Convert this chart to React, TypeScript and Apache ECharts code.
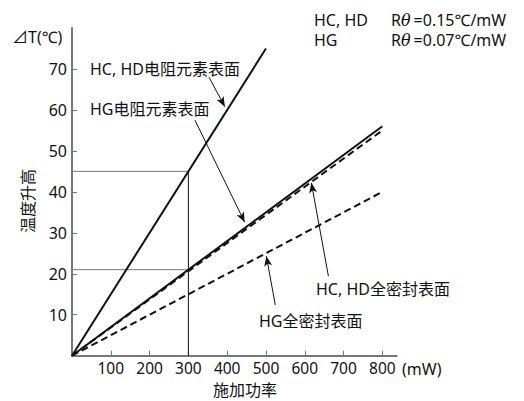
import React, { useEffect, useRef } from "react";
import * as echarts from "echarts";

// Data (x: applied power mW, y: temperature rise ℃)
const xTickValues = [100, 200, 300, 400, 500, 600, 700, 800];
const yTickValues = [10, 20, 30, 40, 50, 60, 70];
const hcHdElementLine = [[0, 0], [500, 75]];
const hgElementLine = [[0, 0], [800, 56]];
const hcHdSealedLine = [[0, 0], [800, 55]];
const hgSealedLine = [[0, 0], [800, 40]];
const guideH45 = [[0, 45], [300, 45]];
const guideH21 = [[0, 21], [300, 21]];
const guideV300 = [[300, 0], [300, 45]];
const arrowHcHdElement = [[353, 68], [394, 60.8]];
const arrowHgElement = [[317, 57.5], [445, 32.6]];
const arrowHcHdSealed = [[661, 19.4], [617, 42.2]];
const arrowHgSealed = [[524, 12.4], [501, 24.3]];
const labelHcHdElement = "HC, HD电阻元素表面";
const labelHgElement = "HG电阻元素表面";
const labelHcHdSealed = "HC, HD全密封表面";
const labelHgSealed = "HG全密封表面";

const FONT = '"Noto Sans", "Noto Sans CJK SC", sans-serif';

export default function App() {
  const ref = useRef<HTMLDivElement>(null);
  useEffect(() => {
    if (!ref.current) return;
    const chart = echarts.init(ref.current, null, { renderer: "svg" });
    const txt = (text: string, x: number, y: number, extra: any = {}) => ({
      type: "text",
      x,
      y,
      style: {
        text,
        fill: "#111",
        font: `16px ${FONT}`,
        verticalAlign: "middle",
        align: "left",
        ...extra,
      },
    });
    const arrow = (pts: number[][]) => [{ coord: pts[0] }, { coord: pts[1] }];
    const rich = { i: { fontStyle: "italic", fontSize: 16, fontFamily: "DejaVu Serif", padding: [0, 3, 0, 0] } };
    chart.setOption({
      animation: false,
      backgroundColor: "#fff",
      grid: { left: 72, top: 28, right: 127.3, bottom: 45.3, containLabel: false },
      xAxis: {
        type: "value",
        min: 0,
        max: 837,
        interval: 100,
        splitLine: { show: false },
        axisLine: { lineStyle: { color: "#777", width: 2 } },
        axisTick: { inside: true, length: 5, lineStyle: { color: "#777", width: 1 }, customValues: xTickValues },
        axisLabel: { color: "#111", fontSize: 15.5, fontFamily: FONT, margin: 5, customValues: xTickValues },
      },
      yAxis: {
        type: "value",
        min: 0,
        max: 80,
        interval: 10,
        splitLine: { show: false },
        axisLine: { show: true, lineStyle: { color: "#777", width: 2 } },
        axisTick: { show: true, inside: true, length: 5, lineStyle: { color: "#777", width: 1 }, customValues: yTickValues },
        axisLabel: { color: "#111", fontSize: 16, fontFamily: FONT, margin: 5, customValues: yTickValues },
      },
      series: [
        { type: "line", data: guideH45, symbol: "none", lineStyle: { color: "#777", width: 1 }, z: 1 },
        { type: "line", data: guideH21, symbol: "none", lineStyle: { color: "#777", width: 1 }, z: 1 },
        { type: "line", data: guideV300, symbol: "none", lineStyle: { color: "#111", width: 1 }, z: 1 },
        { type: "line", data: hgSealedLine, symbol: "none", lineStyle: { color: "#111", width: 2, type: [7, 4] }, z: 2 },
        { type: "line", data: hcHdSealedLine, symbol: "none", lineStyle: { color: "#111", width: 2, type: [7, 4] }, z: 2 },
        { type: "line", data: hgElementLine, symbol: "none", lineStyle: { color: "#111", width: 2 }, z: 3 },
        { type: "line", data: hcHdElementLine, symbol: "none", lineStyle: { color: "#111", width: 2 }, z: 3 },
        {
          type: "line",
          data: [],
          markLine: {
            silent: true,
            symbol: ["none", "arrow"],
            symbolSize: [6, 10],
            label: { show: false },
            lineStyle: { color: "#111", width: 1, type: "solid" },
            data: [arrow(arrowHcHdElement), arrow(arrowHgElement), arrow(arrowHcHdSealed), arrow(arrowHgSealed)],
          },
        },
      ],
      graphic: [
        txt("⊿T(℃)", 12, 37),
        {
          type: "text",
          x: 28,
          y: 201,
          rotation: Math.PI / 2,
          style: { text: "温度升高", fill: "#111", font: `16px ${FONT}`, align: "center", verticalAlign: "middle" },
        },
        txt("施加功率", 245, 390, { align: "center" }),
        txt("(mW)", 402, 369),
        txt("HC, HD", 314, 20),
        txt("HG", 314, 40),
        {
          type: "text",
          x: 391,
          y: 20,
          style: { text: "R{i|θ}=0.15℃/mW", fill: "#111", font: `16px ${FONT}`, verticalAlign: "middle", rich },
        },
        {
          type: "text",
          x: 391,
          y: 40,
          style: { text: "R{i|θ}=0.07℃/mW", fill: "#111", font: `16px ${FONT}`, verticalAlign: "middle", rich },
        },
        txt(labelHcHdElement, 90, 69),
        txt(labelHgElement, 90, 109),
        txt(labelHcHdSealed, 316, 289),
        txt(labelHgSealed, 259, 321),
      ],
    });
    return () => chart.dispose();
  }, []);
  return <div ref={ref} style={{ position: "fixed", left: 0, top: 0, width: 524, height: 401 }} />;
}
